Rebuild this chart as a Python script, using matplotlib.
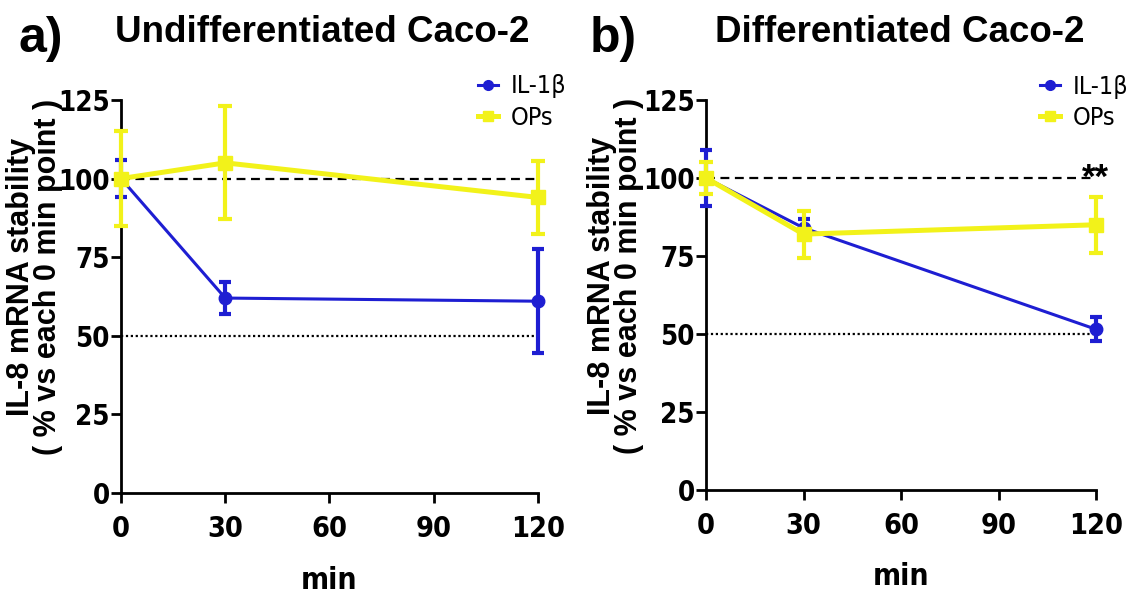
import matplotlib
matplotlib.use("Agg")
import matplotlib.pyplot as plt
from matplotlib import font_manager
from matplotlib.lines import Line2D

# data (mean, error) at 0, 30, 120 min
minutes = [0, 30, 120]

undiff_il1b = [100, 62, 61]
undiff_il1b_err = [6, 5, 16.5]
undiff_ops = [100, 105, 94]
undiff_ops_err = [15, 18, 11.5]

diff_il1b = [100, 84, 51.5]
diff_il1b_err = [9, 3, 3.8]
diff_ops = [100, 82, 85]
diff_ops_err = [5, 7.5, 9]

x_ticks = [0, 30, 60, 90, 120]
y_ticks = [0, 25, 50, 75, 100, 125]

BLUE = "#1e1ed2"
YELLOW = "#f2f21a"
ARIAL = ["Liberation Sans", "DejaVu Sans"]

# look for a narrow font for the graph-pad style tick labels
_fonts = [(f.name, f.stretch) for f in font_manager.fontManager.ttflist]
if any(n == "Liberation Sans Narrow" for n, s in _fonts):
    NARROW, STRETCH, SCALE = ["Liberation Sans Narrow", "DejaVu Sans"], "normal", 1.0
elif any(n.startswith("DejaVu Sans") and s in ("condensed", "semi-condensed") for n, s in _fonts):
    NARROW, STRETCH, SCALE = ["DejaVu Sans"], "condensed", 0.9
else:
    NARROW, STRETCH, SCALE = ARIAL, "normal", 0.82


def narrow(size, weight="bold"):
    return dict(family=NARROW, fontstretch=STRETCH, fontweight=weight, fontsize=size * SCALE)


def panel(ax, il1b, il1b_err, ops, ops_err, label_x):
    ax.plot([0, 120], [100, 100], color="black", ls=(0, (4, 2.5)), lw=1.6, zorder=1, clip_on=False)
    ax.plot([0, 120], [50, 50], color="black", ls=(0, (1, 1.2)), lw=1.6, zorder=1, clip_on=False)

    ax.errorbar(minutes, il1b, yerr=il1b_err, color=BLUE, lw=2.2, marker="o", ms=9,
                elinewidth=3, capsize=4.5, capthick=3, clip_on=False, zorder=3)
    ax.errorbar(minutes, ops, yerr=ops_err, color=YELLOW, lw=3.6, marker="s", ms=10,
                elinewidth=3, capsize=5, capthick=3, clip_on=False, zorder=4)

    ax.set_xlim(0, 120)
    ax.set_ylim(0, 125)
    ax.set_xticks(x_ticks)
    ax.set_yticks(y_ticks)
    for s in ["top", "right"]:
        ax.spines[s].set_visible(False)
    for s in ["left", "bottom"]:
        ax.spines[s].set_linewidth(2)
    ax.tick_params(width=2, length=7)
    ax.tick_params(axis="x", pad=9)
    ax.tick_params(axis="y", pad=1)
    ax.set_xticklabels([str(t) for t in x_ticks], **narrow(23))
    ax.set_yticklabels([str(t) for t in y_ticks], **narrow(22))
    ax.set_xlabel("min", **narrow(24))
    ax.xaxis.set_label_coords(0.5, -0.185)
    ax.set_ylabel("IL-8 mRNA stability\n( % vs each 0 min point )", family=ARIAL,
                  fontweight="bold", fontsize=22, linespacing=0.85)
    ax.yaxis.set_label_coords(label_x, 0.55)

    handles = [Line2D([], [], color=BLUE, lw=2.2, marker="o", ms=7),
               Line2D([], [], color=YELLOW, lw=3.6, marker="s", ms=7)]
    ax.legend(handles, ["IL-1\u03b2", "OPs"], loc="upper left", bbox_to_anchor=(0.856, 1.065),
              frameon=False, handlelength=0.8, handletextpad=0.5, labelspacing=0.3,
              borderaxespad=0, borderpad=0, prop=dict(family=NARROW, stretch=STRETCH, size=20 * SCALE))


fig = plt.figure(figsize=(11.34, 5.95), dpi=100)
ax1 = fig.add_axes([0.1067, 0.1714, 0.3677, 0.6606])
ax2 = fig.add_axes([0.6226, 0.1765, 0.3439, 0.6555])

panel(ax1, undiff_il1b, undiff_il1b_err, undiff_ops, undiff_ops_err, -0.14)
panel(ax2, diff_il1b, diff_il1b_err, diff_ops, diff_ops_err, -0.16)

ax2.text(119.7, 96.8, "**", ha="center", va="baseline", fontsize=25, family=ARIAL, fontweight="bold")

fig.text(0.0159, 0.912, "a)", fontsize=36, fontweight="bold", family=ARIAL, va="baseline")
fig.text(0.2844, 0.9294, "Undifferentiated Caco-2", fontsize=26.5, fontweight="bold", family=ARIAL,
         ha="center", va="baseline")
fig.text(0.520, 0.912, "b)", fontsize=36, fontweight="bold", family=ARIAL, va="baseline")
fig.text(0.7937, 0.9294, "Differentiated Caco-2", fontsize=26.5, fontweight="bold", family=ARIAL,
         ha="center", va="baseline")

fig.savefig("out.png", dpi=100)
